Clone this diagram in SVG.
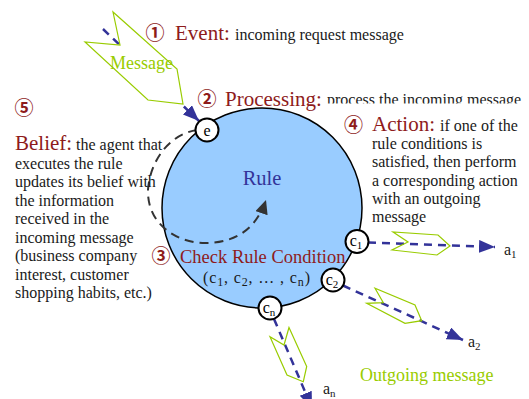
<svg xmlns="http://www.w3.org/2000/svg" width="529" height="399" viewBox="0 0 529 399">
  <defs>
    <style>
      .serif { font-family: "Liberation Serif", "Times New Roman", serif; }
      .body { font-family: "Liberation Serif", "Times New Roman", serif; font-size: 16px; fill: #1a1a1a; }
      .head { font-size: 21px; fill: #8e1b1b; }
      .num { font-family: "Noto Sans CJK JP", "DejaVu Sans", sans-serif; font-size: 19px; font-weight: bold; fill: #8e1b1b; }
      .green { font-size: 18px; fill: #99cc00; }
      .env { fill: none; stroke: #99cc00; stroke-width: 1.2; stroke-linejoin: miter; }
      .flow { fill: none; stroke: #333399; stroke-width: 2.5; stroke-dasharray: 8 6; }
      .node circle { fill: #ffffff; stroke: #000000; stroke-width: 2; }
      .node text { font-family: "Liberation Serif", serif; font-size: 16px; fill: #000000; text-anchor: middle; }
    </style>
    <marker id="blueHead" markerUnits="userSpaceOnUse" markerWidth="18" markerHeight="14" refX="16" refY="6.5" orient="auto">
      <path d="M0,0 L16,6.5 L0,13 z" fill="#333399"/>
    </marker>
    <marker id="grayHead" markerUnits="userSpaceOnUse" markerWidth="16" markerHeight="14" refX="14" refY="6.5" orient="auto">
      <path d="M0,0 L14,6.5 L0,13 z" fill="#333333"/>
    </marker>
    <clipPath id="procClip">
      <rect x="320" y="80" width="209" height="23.5"/>
    </clipPath>
  </defs>

  <!-- rule body -->
  <g id="rule">
    <circle cx="262" cy="208" r="100" fill="#99ccff" stroke="#000000" stroke-width="1.5"/>
    <text class="serif" x="262" y="185" font-size="20.5" fill="#333399" text-anchor="middle">Rule</text>
  </g>

  <!-- belief update loop -->
  <g id="belief-loop">
    <path d="M197,130 C170,134 150,160 148,190 C147,225 178,243 205,243 C232,243 255,232 266,200" fill="none" stroke="#333333" stroke-width="2" stroke-dasharray="9 6" marker-end="url(#grayHead)"/>
  </g>

  <!-- connectors -->
  <g id="connectors">
    <path class="flow" d="M103,29 L199,121" marker-end="url(#blueHead)"/>
    <path class="flow" d="M368,242.5 L495,247" marker-end="url(#blueHead)"/>
    <path class="flow" d="M343,285.5 L463,340" marker-end="url(#blueHead)"/>
    <path class="flow" d="M274,319 L312,408" marker-end="url(#blueHead)"/>
  </g>

  <!-- message envelopes -->
  <g id="incoming-message">
    <polygon points="113,12 120,45 85,42 148,100 183,104 177,69" fill="#ffffff" stroke="#99cc00" stroke-width="1.2"/>
    <text class="serif green" x="110" y="69">Message</text>
  </g>
  <g id="outgoing-message-1">
    <polygon class="env" points="393,232 408,242 392,250 437,255 450,246 438,235"/>
  </g>
  <g id="outgoing-message-2">
    <polygon class="env" points="375,288.3 383.3,302.7 366.7,303.3 405,323.3 421.7,320.7 415,305"/>
  </g>
  <g id="outgoing-message-n">
    <polygon class="env" points="289,327.5 284,345 270,336.7 287,375 303.3,381.7 306.7,366.5"/>
  </g>
  <text class="serif green" x="360" y="381">Outgoing message</text>

  <!-- event and condition nodes -->
  <g id="node-e" class="node">
    <circle cx="207" cy="130" r="11.5"/>
    <text x="207" y="135.5">e</text>
  </g>
  <g id="node-c1" class="node">
    <circle cx="357" cy="241.5" r="11.5"/>
    <text x="356" y="246">c<tspan font-size="11" dy="3">1</tspan></text>
  </g>
  <g id="node-c2" class="node">
    <circle cx="333" cy="280" r="11.5"/>
    <text x="332" y="284.5">c<tspan font-size="11" dy="3">2</tspan></text>
  </g>
  <g id="node-cn" class="node">
    <circle cx="270" cy="308" r="11.5"/>
    <text x="269" y="312.5">c<tspan font-size="11" dy="3">n</tspan></text>
  </g>

  <!-- action targets -->
  <g id="action-a1">
    <text class="body" x="504" y="255">a<tspan font-size="11" dy="3">1</tspan></text>
  </g>
  <g id="action-a2">
    <text class="body" x="468" y="347">a<tspan font-size="11" dy="3">2</tspan></text>
  </g>
  <g id="action-an">
    <text class="body" x="323" y="394">a<tspan font-size="11" dy="3">n</tspan></text>
  </g>

  <!-- step 1: event -->
  <g id="step-event">
    <text class="num" x="155" y="40" text-anchor="middle">①</text>
    <text class="serif head" x="175" y="39.5">Event:</text>
    <text class="body" x="235" y="39.5">incoming request message</text>
  </g>

  <!-- step 2: processing -->
  <g id="step-processing">
    <text class="num" x="207" y="106" text-anchor="middle">②</text>
    <text class="serif head" x="225" y="106">Processing:</text>
    <text class="body" x="327" y="105" clip-path="url(#procClip)">process the incoming message</text>
  </g>

  <!-- step 3: condition check -->
  <g id="step-check">
    <text class="num" x="161" y="263" text-anchor="middle">③</text>
    <text class="serif" x="180" y="263" font-size="18.5" fill="#8e1b1b">Check Rule Condition</text>
    <text class="body" x="203" y="283" font-size="17" textLength="107" lengthAdjust="spacing">(c<tspan font-size="12" dy="3">1</tspan><tspan dy="-3">, c</tspan><tspan font-size="12" dy="3">2</tspan><tspan dy="-3">, … , c</tspan><tspan font-size="12" dy="3">n</tspan><tspan dy="-3">)</tspan></text>
  </g>

  <!-- step 4: action -->
  <g id="step-action">
    <text class="num" x="353.5" y="132" text-anchor="middle">④</text>
    <text class="serif head" x="372" y="131">Action:</text>
    <text class="body" x="440" y="131">if one of the</text>
    <text class="body">
      <tspan x="372" y="149.2">rule conditions is</tspan>
      <tspan x="372" y="167.4">satisfied, then perform</tspan>
      <tspan x="372" y="185.6">a corresponding action</tspan>
      <tspan x="372" y="203.8">with an outgoing</tspan>
      <tspan x="372" y="222">message</tspan>
    </text>
  </g>

  <!-- step 5: belief -->
  <g id="step-belief">
    <text class="num" x="24" y="115" text-anchor="middle">⑤</text>
    <text class="serif head" x="15" y="150">Belief:</text>
    <text class="body" x="76" y="150">the agent that</text>
    <text class="body">
      <tspan x="15" y="168.5">executes the rule</tspan>
      <tspan x="15" y="187">updates its belief with</tspan>
      <tspan x="15" y="205.5">the information</tspan>
      <tspan x="15" y="224">received in the</tspan>
      <tspan x="15" y="242.5">incoming message</tspan>
      <tspan x="15" y="261">(business company</tspan>
      <tspan x="15" y="279.5">interest, customer</tspan>
      <tspan x="15" y="298">shopping habits, etc.)</tspan>
    </text>
  </g>
</svg>
